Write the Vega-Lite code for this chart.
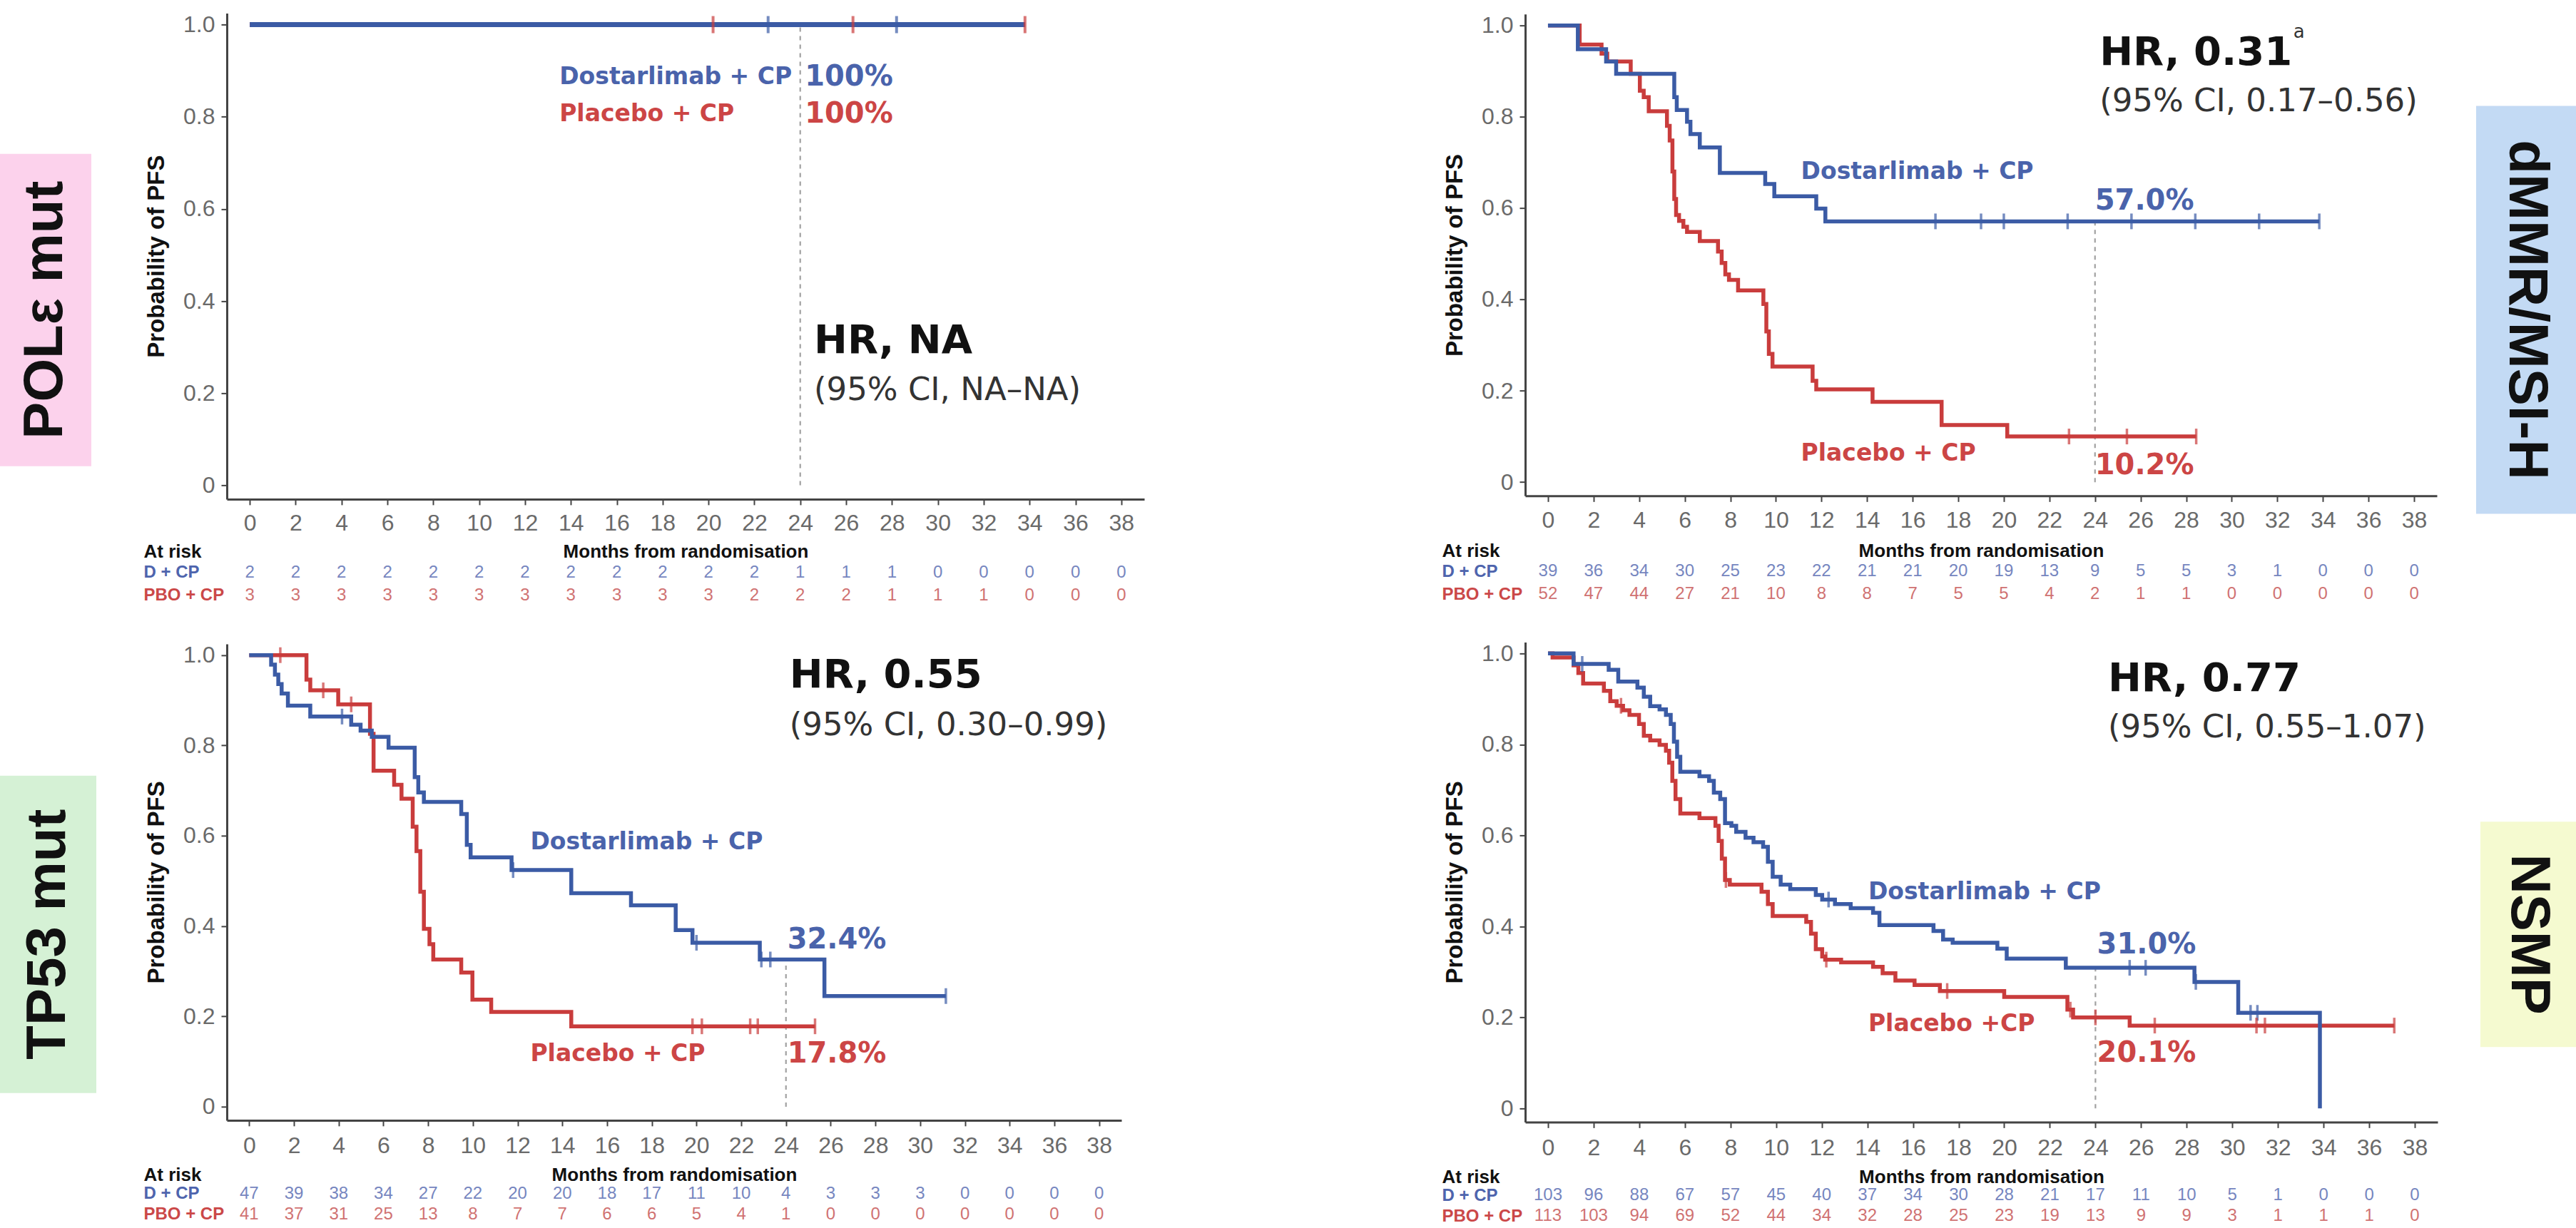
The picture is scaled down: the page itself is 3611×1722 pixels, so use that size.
{
"$schema": "https://vega.github.io/schema/vega-lite/v6.json",
"background": "white",
"padding": {"left": 0, "top": 18, "right": 0, "bottom": 0},
"config": {
  "view": {"stroke": null},
  "axis": {"grid": false, "domainColor": "#444", "domainWidth": 3, "tickColor": "#444", "tickWidth": 2, "tickSize": 8, "labelFont": "Liberation Sans", "labelFontSize": 32, "labelColor": "#6a6a6a", "titleFont": "Liberation Sans"}
},
"datasets": {
"landmark": [
{"panel":"TL","t":24,"s":0,"top":1},
{"panel":"TR","t":24,"s":0,"top":0.571},
{"panel":"BL","t":24,"s":0,"top":0.326},
{"panel":"BR","t":24,"s":0,"top":0.309}
],
"km": [
{"panel":"TL","arm":"D","t":0,"s":1},{"panel":"TL","arm":"D","t":33.8,"s":1},
{"panel":"TL","arm":"P","t":0,"s":1},{"panel":"TL","arm":"P","t":33.8,"s":1},
{"panel":"TR","arm":"D","t":0,"s":1},{"panel":"TR","arm":"D","t":1.31,"s":0.948},{"panel":"TR","arm":"D","t":2.55,"s":0.921},{"panel":"TR","arm":"D","t":2.99,"s":0.894},{"panel":"TR","arm":"D","t":5.54,"s":0.843},{"panel":"TR","arm":"D","t":5.65,"s":0.815},{"panel":"TR","arm":"D","t":6.1,"s":0.789},{"panel":"TR","arm":"D","t":6.25,"s":0.762},{"panel":"TR","arm":"D","t":6.66,"s":0.733},{"panel":"TR","arm":"D","t":7.54,"s":0.677},{"panel":"TR","arm":"D","t":9.53,"s":0.653},{"panel":"TR","arm":"D","t":9.93,"s":0.626},{"panel":"TR","arm":"D","t":11.77,"s":0.599},{"panel":"TR","arm":"D","t":12.17,"s":0.571},{"panel":"TR","arm":"D","t":33.84,"s":0.571},
{"panel":"TR","arm":"P","t":0,"s":1},{"panel":"TR","arm":"P","t":1.39,"s":0.958},{"panel":"TR","arm":"P","t":2.35,"s":0.938},{"panel":"TR","arm":"P","t":2.6,"s":0.921},{"panel":"TR","arm":"P","t":3.63,"s":0.894},{"panel":"TR","arm":"P","t":4.03,"s":0.857},{"panel":"TR","arm":"P","t":4.2,"s":0.843},{"panel":"TR","arm":"P","t":4.42,"s":0.812},{"panel":"TR","arm":"P","t":5.22,"s":0.78},{"panel":"TR","arm":"P","t":5.34,"s":0.748},{"panel":"TR","arm":"P","t":5.46,"s":0.68},{"panel":"TR","arm":"P","t":5.54,"s":0.62},{"panel":"TR","arm":"P","t":5.62,"s":0.585},{"panel":"TR","arm":"P","t":5.75,"s":0.572},{"panel":"TR","arm":"P","t":5.94,"s":0.559},{"panel":"TR","arm":"P","t":6.1,"s":0.548},{"panel":"TR","arm":"P","t":6.66,"s":0.528},{"panel":"TR","arm":"P","t":7.46,"s":0.505},{"panel":"TR","arm":"P","t":7.62,"s":0.48},{"panel":"TR","arm":"P","t":7.78,"s":0.455},{"panel":"TR","arm":"P","t":7.94,"s":0.443},{"panel":"TR","arm":"P","t":8.34,"s":0.42},{"panel":"TR","arm":"P","t":9.45,"s":0.39},{"panel":"TR","arm":"P","t":9.58,"s":0.33},{"panel":"TR","arm":"P","t":9.69,"s":0.281},{"panel":"TR","arm":"P","t":9.85,"s":0.253},{"panel":"TR","arm":"P","t":11.61,"s":0.222},{"panel":"TR","arm":"P","t":11.77,"s":0.203},{"panel":"TR","arm":"P","t":14.24,"s":0.176},{"panel":"TR","arm":"P","t":17.27,"s":0.125},{"panel":"TR","arm":"P","t":20.15,"s":0.1},{"panel":"TR","arm":"P","t":28.44,"s":0.1},
{"panel":"BL","arm":"D","t":0,"s":1},{"panel":"BL","arm":"D","t":0.98,"s":0.979},{"panel":"BL","arm":"D","t":1.15,"s":0.957},{"panel":"BL","arm":"D","t":1.3,"s":0.936},{"panel":"BL","arm":"D","t":1.45,"s":0.915},{"panel":"BL","arm":"D","t":1.73,"s":0.888},{"panel":"BL","arm":"D","t":2.73,"s":0.864},{"panel":"BL","arm":"D","t":4.56,"s":0.846},{"panel":"BL","arm":"D","t":4.98,"s":0.833},{"panel":"BL","arm":"D","t":5.48,"s":0.819},{"panel":"BL","arm":"D","t":6.23,"s":0.795},{"panel":"BL","arm":"D","t":7.4,"s":0.73},{"panel":"BL","arm":"D","t":7.56,"s":0.696},{"panel":"BL","arm":"D","t":7.81,"s":0.675},{"panel":"BL","arm":"D","t":9.48,"s":0.648},{"panel":"BL","arm":"D","t":9.73,"s":0.58},{"panel":"BL","arm":"D","t":9.9,"s":0.552},{"panel":"BL","arm":"D","t":11.73,"s":0.524},{"panel":"BL","arm":"D","t":14.4,"s":0.473},{"panel":"BL","arm":"D","t":17.07,"s":0.446},{"panel":"BL","arm":"D","t":19.07,"s":0.391},{"panel":"BL","arm":"D","t":19.82,"s":0.363},{"panel":"BL","arm":"D","t":22.83,"s":0.326},{"panel":"BL","arm":"D","t":25.72,"s":0.245},{"panel":"BL","arm":"D","t":31.15,"s":0.245},
{"panel":"BL","arm":"P","t":0,"s":1},{"panel":"BL","arm":"P","t":2.56,"s":0.946},{"panel":"BL","arm":"P","t":2.73,"s":0.922},{"panel":"BL","arm":"P","t":3.98,"s":0.891},{"panel":"BL","arm":"P","t":5.4,"s":0.826},{"panel":"BL","arm":"P","t":5.56,"s":0.744},{"panel":"BL","arm":"P","t":6.48,"s":0.713},{"panel":"BL","arm":"P","t":6.81,"s":0.682},{"panel":"BL","arm":"P","t":7.31,"s":0.62},{"panel":"BL","arm":"P","t":7.48,"s":0.566},{"panel":"BL","arm":"P","t":7.65,"s":0.476},{"panel":"BL","arm":"P","t":7.81,"s":0.394},{"panel":"BL","arm":"P","t":8.06,"s":0.36},{"panel":"BL","arm":"P","t":8.23,"s":0.326},{"panel":"BL","arm":"P","t":9.48,"s":0.297},{"panel":"BL","arm":"P","t":9.98,"s":0.237},{"panel":"BL","arm":"P","t":10.82,"s":0.21},{"panel":"BL","arm":"P","t":14.4,"s":0.178},{"panel":"BL","arm":"P","t":25.3,"s":0.178},
{"panel":"BR","arm":"D","t":0,"s":1},{"panel":"BR","arm":"D","t":1.12,"s":0.977},{"panel":"BR","arm":"D","t":2.66,"s":0.964},{"panel":"BR","arm":"D","t":3.08,"s":0.938},{"panel":"BR","arm":"D","t":3.92,"s":0.925},{"panel":"BR","arm":"D","t":4.2,"s":0.905},{"panel":"BR","arm":"D","t":4.48,"s":0.884},{"panel":"BR","arm":"D","t":4.89,"s":0.877},{"panel":"BR","arm":"D","t":5.17,"s":0.865},{"panel":"BR","arm":"D","t":5.38,"s":0.845},{"panel":"BR","arm":"D","t":5.52,"s":0.806},{"panel":"BR","arm":"D","t":5.66,"s":0.773},{"panel":"BR","arm":"D","t":5.8,"s":0.74},{"panel":"BR","arm":"D","t":6.64,"s":0.73},{"panel":"BR","arm":"D","t":7.06,"s":0.72},{"panel":"BR","arm":"D","t":7.27,"s":0.694},{"panel":"BR","arm":"D","t":7.55,"s":0.68},{"panel":"BR","arm":"D","t":7.76,"s":0.627},{"panel":"BR","arm":"D","t":8.04,"s":0.621},{"panel":"BR","arm":"D","t":8.25,"s":0.608},{"panel":"BR","arm":"D","t":8.66,"s":0.595},{"panel":"BR","arm":"D","t":9.01,"s":0.585},{"panel":"BR","arm":"D","t":9.43,"s":0.575},{"panel":"BR","arm":"D","t":9.64,"s":0.542},{"panel":"BR","arm":"D","t":9.85,"s":0.509},{"panel":"BR","arm":"D","t":10.2,"s":0.492},{"panel":"BR","arm":"D","t":10.62,"s":0.482},{"panel":"BR","arm":"D","t":11.74,"s":0.469},{"panel":"BR","arm":"D","t":12.02,"s":0.459},{"panel":"BR","arm":"D","t":12.58,"s":0.449},{"panel":"BR","arm":"D","t":13.27,"s":0.44},{"panel":"BR","arm":"D","t":14.25,"s":0.43},{"panel":"BR","arm":"D","t":14.53,"s":0.403},{"panel":"BR","arm":"D","t":16.9,"s":0.39},{"panel":"BR","arm":"D","t":17.32,"s":0.371},{"panel":"BR","arm":"D","t":17.74,"s":0.364},{"panel":"BR","arm":"D","t":19.7,"s":0.351},{"panel":"BR","arm":"D","t":20.11,"s":0.329},{"panel":"BR","arm":"D","t":22.7,"s":0.309},{"panel":"BR","arm":"D","t":28.34,"s":0.278},{"panel":"BR","arm":"D","t":30.26,"s":0.21},{"panel":"BR","arm":"D","t":33.84,"s":0},
{"panel":"BR","arm":"P","t":0,"s":1},{"panel":"BR","arm":"P","t":0.2,"s":0.991},{"panel":"BR","arm":"P","t":1.12,"s":0.974},{"panel":"BR","arm":"P","t":1.33,"s":0.957},{"panel":"BR","arm":"P","t":1.54,"s":0.934},{"panel":"BR","arm":"P","t":2.45,"s":0.918},{"panel":"BR","arm":"P","t":2.73,"s":0.895},{"panel":"BR","arm":"P","t":3.01,"s":0.885},{"panel":"BR","arm":"P","t":3.29,"s":0.875},{"panel":"BR","arm":"P","t":3.57,"s":0.865},{"panel":"BR","arm":"P","t":3.99,"s":0.845},{"panel":"BR","arm":"P","t":4.2,"s":0.819},{"panel":"BR","arm":"P","t":4.48,"s":0.809},{"panel":"BR","arm":"P","t":4.89,"s":0.799},{"panel":"BR","arm":"P","t":5.17,"s":0.786},{"panel":"BR","arm":"P","t":5.31,"s":0.76},{"panel":"BR","arm":"P","t":5.45,"s":0.72},{"panel":"BR","arm":"P","t":5.59,"s":0.68},{"panel":"BR","arm":"P","t":5.8,"s":0.648},{"panel":"BR","arm":"P","t":6.64,"s":0.638},{"panel":"BR","arm":"P","t":7.34,"s":0.621},{"panel":"BR","arm":"P","t":7.48,"s":0.588},{"panel":"BR","arm":"P","t":7.62,"s":0.549},{"panel":"BR","arm":"P","t":7.76,"s":0.502},{"panel":"BR","arm":"P","t":7.97,"s":0.492},{"panel":"BR","arm":"P","t":9.36,"s":0.476},{"panel":"BR","arm":"P","t":9.64,"s":0.449},{"panel":"BR","arm":"P","t":9.85,"s":0.423},{"panel":"BR","arm":"P","t":11.32,"s":0.41},{"panel":"BR","arm":"P","t":11.53,"s":0.384},{"panel":"BR","arm":"P","t":11.74,"s":0.35},{"panel":"BR","arm":"P","t":12.02,"s":0.334},{"panel":"BR","arm":"P","t":12.15,"s":0.327},{"panel":"BR","arm":"P","t":12.85,"s":0.321},{"panel":"BR","arm":"P","t":14.25,"s":0.311},{"panel":"BR","arm":"P","t":14.67,"s":0.297},{"panel":"BR","arm":"P","t":15.23,"s":0.281},{"panel":"BR","arm":"P","t":16.07,"s":0.271},{"panel":"BR","arm":"P","t":17.18,"s":0.258},{"panel":"BR","arm":"P","t":20.0,"s":0.245},{"panel":"BR","arm":"P","t":22.77,"s":0.217},{"panel":"BR","arm":"P","t":23.02,"s":0.2},{"panel":"BR","arm":"P","t":25.5,"s":0.182},{"panel":"BR","arm":"P","t":37.1,"s":0.182}
],
"cens": [
{"panel":"TL","arm":"D","t":22.6,"s":1},{"panel":"TL","arm":"D","t":28.2,"s":1},
{"panel":"TL","arm":"P","t":20.2,"s":1},{"panel":"TL","arm":"P","t":26.3,"s":1},{"panel":"TL","arm":"P","t":33.8,"s":1},
{"panel":"TR","arm":"D","t":17.0,"s":0.571},{"panel":"TR","arm":"D","t":19.0,"s":0.571},{"panel":"TR","arm":"D","t":20.0,"s":0.571},{"panel":"TR","arm":"D","t":22.8,"s":0.571},{"panel":"TR","arm":"D","t":25.6,"s":0.571},{"panel":"TR","arm":"D","t":28.4,"s":0.571},{"panel":"TR","arm":"D","t":31.2,"s":0.571},{"panel":"TR","arm":"D","t":33.84,"s":0.571},
{"panel":"TR","arm":"P","t":22.86,"s":0.1},{"panel":"TR","arm":"P","t":25.4,"s":0.1},{"panel":"TR","arm":"P","t":28.44,"s":0.1},
{"panel":"BL","arm":"D","t":4.15,"s":0.864},{"panel":"BL","arm":"D","t":11.8,"s":0.524},{"panel":"BL","arm":"D","t":20.0,"s":0.363},{"panel":"BL","arm":"D","t":22.9,"s":0.326},{"panel":"BL","arm":"D","t":23.3,"s":0.326},{"panel":"BL","arm":"D","t":31.15,"s":0.245},
{"panel":"BL","arm":"P","t":1.39,"s":1},{"panel":"BL","arm":"P","t":3.31,"s":0.922},{"panel":"BL","arm":"P","t":4.56,"s":0.891},{"panel":"BL","arm":"P","t":19.82,"s":0.178},{"panel":"BL","arm":"P","t":20.24,"s":0.178},{"panel":"BL","arm":"P","t":22.4,"s":0.178},{"panel":"BL","arm":"P","t":22.74,"s":0.178},{"panel":"BL","arm":"P","t":25.3,"s":0.178},
{"panel":"BR","arm":"D","t":1.5,"s":0.977},{"panel":"BR","arm":"D","t":12.3,"s":0.459},{"panel":"BR","arm":"D","t":25.5,"s":0.309},{"panel":"BR","arm":"D","t":26.2,"s":0.309},{"panel":"BR","arm":"D","t":28.4,"s":0.278},{"panel":"BR","arm":"D","t":30.8,"s":0.21},{"panel":"BR","arm":"D","t":31.1,"s":0.21},
{"panel":"BR","arm":"P","t":3.2,"s":0.885},{"panel":"BR","arm":"P","t":7.8,"s":0.502},{"panel":"BR","arm":"P","t":12.2,"s":0.327},{"panel":"BR","arm":"P","t":17.5,"s":0.258},{"panel":"BR","arm":"P","t":22.9,"s":0.217},{"panel":"BR","arm":"P","t":24.0,"s":0.2},{"panel":"BR","arm":"P","t":26.6,"s":0.182},{"panel":"BR","arm":"P","t":31.06,"s":0.182},{"panel":"BR","arm":"P","t":31.43,"s":0.182},{"panel":"BR","arm":"P","t":37.1,"s":0.182}
],
"notes": [
{"panel":"TL","kind":"arm","arm":"D","t":13.5,"s":0.887,"label":"Dostarlimab + CP"},
{"panel":"TL","kind":"arm","arm":"P","t":13.5,"s":0.805,"label":"Placebo + CP"},
{"panel":"TL","kind":"pct","arm":"D","t":24.2,"s":0.887,"label":"100%"},
{"panel":"TL","kind":"pct","arm":"P","t":24.2,"s":0.805,"label":"100%"},
{"panel":"TL","kind":"hr","arm":"","t":24.6,"s":0.314,"label":"HR, NA"},
{"panel":"TL","kind":"ci","arm":"","t":24.6,"s":0.206,"label":"(95% CI, NA–NA)"},
{"panel":"TR","kind":"arm","arm":"D","t":11.1,"s":0.68,"label":"Dostarlimab + CP"},
{"panel":"TR","kind":"arm","arm":"P","t":11.1,"s":0.062,"label":"Placebo + CP"},
{"panel":"TR","kind":"pct","arm":"D","t":24.0,"s":0.615,"label":"57.0%"},
{"panel":"TR","kind":"pct","arm":"P","t":24.0,"s":0.036,"label":"10.2%"},
{"panel":"TR","kind":"hr","arm":"","t":24.2,"s":0.94,"label":"HR, 0.31"},
{"panel":"TR","kind":"sup","arm":"","t":32.7,"s":0.985,"label":"a"},
{"panel":"TR","kind":"ci","arm":"","t":24.2,"s":0.834,"label":"(95% CI, 0.17–0.56)"},
{"panel":"BL","kind":"arm","arm":"D","t":12.57,"s":0.586,"label":"Dostarlimab + CP"},
{"panel":"BL","kind":"arm","arm":"P","t":12.57,"s":0.117,"label":"Placebo + CP"},
{"panel":"BL","kind":"pct","arm":"D","t":24.06,"s":0.37,"label":"32.4%"},
{"panel":"BL","kind":"pct","arm":"P","t":24.06,"s":0.117,"label":"17.8%"},
{"panel":"BL","kind":"hr","arm":"","t":24.16,"s":0.956,"label":"HR, 0.55"},
{"panel":"BL","kind":"ci","arm":"","t":24.16,"s":0.844,"label":"(95% CI, 0.30–0.99)"},
{"panel":"BR","kind":"arm","arm":"D","t":14.04,"s":0.476,"label":"Dostarlimab + CP"},
{"panel":"BR","kind":"arm","arm":"P","t":14.04,"s":0.186,"label":"Placebo +CP"},
{"panel":"BR","kind":"pct","arm":"D","t":24.07,"s":0.359,"label":"31.0%"},
{"panel":"BR","kind":"pct","arm":"P","t":24.07,"s":0.121,"label":"20.1%"},
{"panel":"BR","kind":"hr","arm":"","t":24.55,"s":0.944,"label":"HR, 0.77"},
{"panel":"BR","kind":"ci","arm":"","t":24.55,"s":0.837,"label":"(95% CI, 0.55–1.07)"}
],
"risk": [
{"panel":"TL","arm":"D + CP","t":0,"n":2},{"panel":"TL","arm":"D + CP","t":2,"n":2},{"panel":"TL","arm":"D + CP","t":4,"n":2},{"panel":"TL","arm":"D + CP","t":6,"n":2},{"panel":"TL","arm":"D + CP","t":8,"n":2},{"panel":"TL","arm":"D + CP","t":10,"n":2},{"panel":"TL","arm":"D + CP","t":12,"n":2},{"panel":"TL","arm":"D + CP","t":14,"n":2},{"panel":"TL","arm":"D + CP","t":16,"n":2},{"panel":"TL","arm":"D + CP","t":18,"n":2},{"panel":"TL","arm":"D + CP","t":20,"n":2},{"panel":"TL","arm":"D + CP","t":22,"n":2},{"panel":"TL","arm":"D + CP","t":24,"n":1},{"panel":"TL","arm":"D + CP","t":26,"n":1},{"panel":"TL","arm":"D + CP","t":28,"n":1},{"panel":"TL","arm":"D + CP","t":30,"n":0},{"panel":"TL","arm":"D + CP","t":32,"n":0},{"panel":"TL","arm":"D + CP","t":34,"n":0},{"panel":"TL","arm":"D + CP","t":36,"n":0},{"panel":"TL","arm":"D + CP","t":38,"n":0},
{"panel":"TL","arm":"PBO + CP","t":0,"n":3},{"panel":"TL","arm":"PBO + CP","t":2,"n":3},{"panel":"TL","arm":"PBO + CP","t":4,"n":3},{"panel":"TL","arm":"PBO + CP","t":6,"n":3},{"panel":"TL","arm":"PBO + CP","t":8,"n":3},{"panel":"TL","arm":"PBO + CP","t":10,"n":3},{"panel":"TL","arm":"PBO + CP","t":12,"n":3},{"panel":"TL","arm":"PBO + CP","t":14,"n":3},{"panel":"TL","arm":"PBO + CP","t":16,"n":3},{"panel":"TL","arm":"PBO + CP","t":18,"n":3},{"panel":"TL","arm":"PBO + CP","t":20,"n":3},{"panel":"TL","arm":"PBO + CP","t":22,"n":2},{"panel":"TL","arm":"PBO + CP","t":24,"n":2},{"panel":"TL","arm":"PBO + CP","t":26,"n":2},{"panel":"TL","arm":"PBO + CP","t":28,"n":1},{"panel":"TL","arm":"PBO + CP","t":30,"n":1},{"panel":"TL","arm":"PBO + CP","t":32,"n":1},{"panel":"TL","arm":"PBO + CP","t":34,"n":0},{"panel":"TL","arm":"PBO + CP","t":36,"n":0},{"panel":"TL","arm":"PBO + CP","t":38,"n":0},
{"panel":"TR","arm":"D + CP","t":0,"n":39},{"panel":"TR","arm":"D + CP","t":2,"n":36},{"panel":"TR","arm":"D + CP","t":4,"n":34},{"panel":"TR","arm":"D + CP","t":6,"n":30},{"panel":"TR","arm":"D + CP","t":8,"n":25},{"panel":"TR","arm":"D + CP","t":10,"n":23},{"panel":"TR","arm":"D + CP","t":12,"n":22},{"panel":"TR","arm":"D + CP","t":14,"n":21},{"panel":"TR","arm":"D + CP","t":16,"n":21},{"panel":"TR","arm":"D + CP","t":18,"n":20},{"panel":"TR","arm":"D + CP","t":20,"n":19},{"panel":"TR","arm":"D + CP","t":22,"n":13},{"panel":"TR","arm":"D + CP","t":24,"n":9},{"panel":"TR","arm":"D + CP","t":26,"n":5},{"panel":"TR","arm":"D + CP","t":28,"n":5},{"panel":"TR","arm":"D + CP","t":30,"n":3},{"panel":"TR","arm":"D + CP","t":32,"n":1},{"panel":"TR","arm":"D + CP","t":34,"n":0},{"panel":"TR","arm":"D + CP","t":36,"n":0},{"panel":"TR","arm":"D + CP","t":38,"n":0},
{"panel":"TR","arm":"PBO + CP","t":0,"n":52},{"panel":"TR","arm":"PBO + CP","t":2,"n":47},{"panel":"TR","arm":"PBO + CP","t":4,"n":44},{"panel":"TR","arm":"PBO + CP","t":6,"n":27},{"panel":"TR","arm":"PBO + CP","t":8,"n":21},{"panel":"TR","arm":"PBO + CP","t":10,"n":10},{"panel":"TR","arm":"PBO + CP","t":12,"n":8},{"panel":"TR","arm":"PBO + CP","t":14,"n":8},{"panel":"TR","arm":"PBO + CP","t":16,"n":7},{"panel":"TR","arm":"PBO + CP","t":18,"n":5},{"panel":"TR","arm":"PBO + CP","t":20,"n":5},{"panel":"TR","arm":"PBO + CP","t":22,"n":4},{"panel":"TR","arm":"PBO + CP","t":24,"n":2},{"panel":"TR","arm":"PBO + CP","t":26,"n":1},{"panel":"TR","arm":"PBO + CP","t":28,"n":1},{"panel":"TR","arm":"PBO + CP","t":30,"n":0},{"panel":"TR","arm":"PBO + CP","t":32,"n":0},{"panel":"TR","arm":"PBO + CP","t":34,"n":0},{"panel":"TR","arm":"PBO + CP","t":36,"n":0},{"panel":"TR","arm":"PBO + CP","t":38,"n":0},
{"panel":"BL","arm":"D + CP","t":0,"n":47},{"panel":"BL","arm":"D + CP","t":2,"n":39},{"panel":"BL","arm":"D + CP","t":4,"n":38},{"panel":"BL","arm":"D + CP","t":6,"n":34},{"panel":"BL","arm":"D + CP","t":8,"n":27},{"panel":"BL","arm":"D + CP","t":10,"n":22},{"panel":"BL","arm":"D + CP","t":12,"n":20},{"panel":"BL","arm":"D + CP","t":14,"n":20},{"panel":"BL","arm":"D + CP","t":16,"n":18},{"panel":"BL","arm":"D + CP","t":18,"n":17},{"panel":"BL","arm":"D + CP","t":20,"n":11},{"panel":"BL","arm":"D + CP","t":22,"n":10},{"panel":"BL","arm":"D + CP","t":24,"n":4},{"panel":"BL","arm":"D + CP","t":26,"n":3},{"panel":"BL","arm":"D + CP","t":28,"n":3},{"panel":"BL","arm":"D + CP","t":30,"n":3},{"panel":"BL","arm":"D + CP","t":32,"n":0},{"panel":"BL","arm":"D + CP","t":34,"n":0},{"panel":"BL","arm":"D + CP","t":36,"n":0},{"panel":"BL","arm":"D + CP","t":38,"n":0},
{"panel":"BL","arm":"PBO + CP","t":0,"n":41},{"panel":"BL","arm":"PBO + CP","t":2,"n":37},{"panel":"BL","arm":"PBO + CP","t":4,"n":31},{"panel":"BL","arm":"PBO + CP","t":6,"n":25},{"panel":"BL","arm":"PBO + CP","t":8,"n":13},{"panel":"BL","arm":"PBO + CP","t":10,"n":8},{"panel":"BL","arm":"PBO + CP","t":12,"n":7},{"panel":"BL","arm":"PBO + CP","t":14,"n":7},{"panel":"BL","arm":"PBO + CP","t":16,"n":6},{"panel":"BL","arm":"PBO + CP","t":18,"n":6},{"panel":"BL","arm":"PBO + CP","t":20,"n":5},{"panel":"BL","arm":"PBO + CP","t":22,"n":4},{"panel":"BL","arm":"PBO + CP","t":24,"n":1},{"panel":"BL","arm":"PBO + CP","t":26,"n":0},{"panel":"BL","arm":"PBO + CP","t":28,"n":0},{"panel":"BL","arm":"PBO + CP","t":30,"n":0},{"panel":"BL","arm":"PBO + CP","t":32,"n":0},{"panel":"BL","arm":"PBO + CP","t":34,"n":0},{"panel":"BL","arm":"PBO + CP","t":36,"n":0},{"panel":"BL","arm":"PBO + CP","t":38,"n":0},
{"panel":"BR","arm":"D + CP","t":0,"n":103},{"panel":"BR","arm":"D + CP","t":2,"n":96},{"panel":"BR","arm":"D + CP","t":4,"n":88},{"panel":"BR","arm":"D + CP","t":6,"n":67},{"panel":"BR","arm":"D + CP","t":8,"n":57},{"panel":"BR","arm":"D + CP","t":10,"n":45},{"panel":"BR","arm":"D + CP","t":12,"n":40},{"panel":"BR","arm":"D + CP","t":14,"n":37},{"panel":"BR","arm":"D + CP","t":16,"n":34},{"panel":"BR","arm":"D + CP","t":18,"n":30},{"panel":"BR","arm":"D + CP","t":20,"n":28},{"panel":"BR","arm":"D + CP","t":22,"n":21},{"panel":"BR","arm":"D + CP","t":24,"n":17},{"panel":"BR","arm":"D + CP","t":26,"n":11},{"panel":"BR","arm":"D + CP","t":28,"n":10},{"panel":"BR","arm":"D + CP","t":30,"n":5},{"panel":"BR","arm":"D + CP","t":32,"n":1},{"panel":"BR","arm":"D + CP","t":34,"n":0},{"panel":"BR","arm":"D + CP","t":36,"n":0},{"panel":"BR","arm":"D + CP","t":38,"n":0},
{"panel":"BR","arm":"PBO + CP","t":0,"n":113},{"panel":"BR","arm":"PBO + CP","t":2,"n":103},{"panel":"BR","arm":"PBO + CP","t":4,"n":94},{"panel":"BR","arm":"PBO + CP","t":6,"n":69},{"panel":"BR","arm":"PBO + CP","t":8,"n":52},{"panel":"BR","arm":"PBO + CP","t":10,"n":44},{"panel":"BR","arm":"PBO + CP","t":12,"n":34},{"panel":"BR","arm":"PBO + CP","t":14,"n":32},{"panel":"BR","arm":"PBO + CP","t":16,"n":28},{"panel":"BR","arm":"PBO + CP","t":18,"n":25},{"panel":"BR","arm":"PBO + CP","t":20,"n":23},{"panel":"BR","arm":"PBO + CP","t":22,"n":19},{"panel":"BR","arm":"PBO + CP","t":24,"n":13},{"panel":"BR","arm":"PBO + CP","t":26,"n":9},{"panel":"BR","arm":"PBO + CP","t":28,"n":9},{"panel":"BR","arm":"PBO + CP","t":30,"n":3},{"panel":"BR","arm":"PBO + CP","t":32,"n":1},{"panel":"BR","arm":"PBO + CP","t":34,"n":1},{"panel":"BR","arm":"PBO + CP","t":36,"n":1},{"panel":"BR","arm":"PBO + CP","t":38,"n":0}
]
},
"spacing": 49,
"vconcat": [
{"spacing": 417, "center": true, "hconcat": [
 {"spacing": 73, "center": true, "hconcat": [
  {"width": 128, "height": 438, "view": {"fill": "#fcd2ec", "stroke": null},
   "data": {"values": [{"label": "POLε mut"}]},
   "mark": {"type": "text", "angle": 270, "font": "Liberation Sans", "fontWeight": "bold", "fontSize": 78, "color": "#111", "align": "center", "baseline": "middle"},
   "encoding": {"text": {"field": "label"}}},
  {"spacing": 86.5, "bounds": "flush", "vconcat": [
   {"width": 1286, "height": 681.5,
    "encoding": {
     "x": {"field": "t", "type": "quantitative", "scale": {"domain": [-1, 39], "nice": false, "zero": false}, "axis": {"values": [0,2,4,6,8,10,12,14,16,18,20,22,24,26,28,30,32,34,36,38], "title": null, "labelPadding": 11, "labelFlush": false, "labelOverlap": false}},
     "y": {"field": "s", "type": "quantitative", "scale": {"domain": [-0.03, 1.025], "nice": false, "zero": false}, "axis": {"values": [0,0.2,0.4,0.6,0.8,1], "labelExpr": "datum.value === 0 ? '0' : format(datum.value, '.1f')", "title": "Probability of PFS", "titleFontSize": 33, "titleFontWeight": "bold", "titleColor": "#111", "titlePadding": 20, "labelPadding": 9}}
    },
    "layer": [
     {"data": {"name": "landmark"}, "transform": [{"filter": "datum.panel === 'TL'"}], "mark": {"type": "rule", "color": "#a2a2a2", "strokeWidth": 2.2, "strokeDash": [6, 6]}, "encoding": {"y2": {"field": "top"}}},
     {"data": {"name": "km"}, "transform": [{"filter": "datum.panel === 'TL' && datum.arm === 'P'"}], "mark": {"type": "line", "interpolate": "step-after", "color": "#c93c3c", "strokeWidth": 7}, "encoding": {}},
     {"data": {"name": "km"}, "transform": [{"filter": "datum.panel === 'TL' && datum.arm === 'D'"}], "mark": {"type": "line", "interpolate": "step-after", "color": "#3b5ba5", "strokeWidth": 7}, "encoding": {}},
     {"data": {"name": "cens"}, "transform": [{"filter": "datum.panel === 'TL'"}], "mark": {"type": "tick", "orient": "vertical", "size": 24, "thickness": 4}, "encoding": {"color": {"condition": {"test": "datum.arm === 'D'", "value": "#3b5ba5"}, "value": "#c93c3c"}}},
     {"data": {"name": "notes"}, "transform": [{"filter": "datum.panel === 'TL' && (datum.kind === 'arm' || datum.kind === 'pct' || datum.kind === 'hr')"}], "mark": {"type": "text", "align": "left", "baseline": "middle", "font": "DejaVu Sans", "fontWeight": "bold"}, "encoding": {"text": {"field": "label"}, "size": {"condition": [{"test": "datum.kind === 'arm'", "value": 33}, {"test": "datum.kind === 'hr'", "value": 56}], "value": 40}, "color": {"condition": [{"test": "datum.kind === 'hr'", "value": "#111"}, {"test": "datum.arm === 'D'", "value": "#4a63ab"}], "value": "#cc4545"}}},
     {"data": {"name": "notes"}, "transform": [{"filter": "datum.panel === 'TL' && (datum.kind === 'ci' || datum.kind === 'sup')"}], "mark": {"type": "text", "align": "left", "baseline": "middle", "font": "DejaVu Sans", "color": "#333"}, "encoding": {"text": {"field": "label"}, "size": {"condition": {"test": "datum.kind === 'sup'", "value": 26}, "value": 45}}}
    ]},
   {"width": 1286, "height": 64,
    "data": {"name": "risk"}, "transform": [{"filter": "datum.panel === 'TL'"}],
    "mark": {"type": "text", "font": "Liberation Sans", "fontSize": 24},
    "encoding": {
     "x": {"field": "t", "type": "quantitative", "scale": {"domain": [-1, 39], "nice": false, "zero": false}, "axis": {"orient": "top", "title": "Months from randomisation", "labels": false, "ticks": false, "domain": false, "titleFontSize": 26, "titleFontWeight": "bold", "titleColor": "#111", "titleY": -13, "titleBaseline": "middle"}},
     "y": {"field": "arm", "type": "nominal", "sort": ["D + CP", "PBO + CP"], "scale": {"type": "point", "padding": 0.5}, "axis": {"title": "At risk", "titleAngle": 0, "titleAlign": "left", "titleBaseline": "middle", "titleX": -117, "titleY": -13, "titleFontSize": 26, "titleFontWeight": "bold", "titleColor": "#111", "labelAlign": "left", "labelPadding": 117, "ticks": false, "tickSize": 0, "domain": false, "labelFontSize": 24, "labelFontWeight": "bold", "labelColor": {"condition": {"test": "datum.value === 'D + CP'", "value": "#4e64ad"}, "value": "#cb4848"}}},
     "text": {"field": "n", "type": "quantitative"},
     "color": {"condition": {"test": "datum.arm === 'D + CP'", "value": "#7686bf"}, "value": "#d07272"}
    }}
  ]}
 ]},
 {"spacing": 55, "center": true, "hconcat": [
  {"spacing": 89.8, "bounds": "flush", "vconcat": [
   {"width": 1278, "height": 675.7,
    "encoding": {
     "x": {"field": "t", "type": "quantitative", "scale": {"domain": [-1, 39], "nice": false, "zero": false}, "axis": {"values": [0,2,4,6,8,10,12,14,16,18,20,22,24,26,28,30,32,34,36,38], "title": null, "labelPadding": 11, "labelFlush": false, "labelOverlap": false}},
     "y": {"field": "s", "type": "quantitative", "scale": {"domain": [-0.03, 1.025], "nice": false, "zero": false}, "axis": {"values": [0,0.2,0.4,0.6,0.8,1], "labelExpr": "datum.value === 0 ? '0' : format(datum.value, '.1f')", "title": "Probability of PFS", "titleFontSize": 33, "titleFontWeight": "bold", "titleColor": "#111", "titlePadding": 20, "labelPadding": 9}}
    },
    "layer": [
     {"data": {"name": "landmark"}, "transform": [{"filter": "datum.panel === 'TR'"}], "mark": {"type": "rule", "color": "#a2a2a2", "strokeWidth": 2.2, "strokeDash": [6, 6]}, "encoding": {"y2": {"field": "top"}}},
     {"data": {"name": "km"}, "transform": [{"filter": "datum.panel === 'TR' && datum.arm === 'P'"}], "mark": {"type": "line", "interpolate": "step-after", "color": "#c93c3c", "strokeWidth": 5.5}, "encoding": {}},
     {"data": {"name": "km"}, "transform": [{"filter": "datum.panel === 'TR' && datum.arm === 'D'"}], "mark": {"type": "line", "interpolate": "step-after", "color": "#3b5ba5", "strokeWidth": 5.5}, "encoding": {}},
     {"data": {"name": "cens"}, "transform": [{"filter": "datum.panel === 'TR'"}], "mark": {"type": "tick", "orient": "vertical", "size": 22, "thickness": 3.5}, "encoding": {"color": {"condition": {"test": "datum.arm === 'D'", "value": "#3b5ba5"}, "value": "#c93c3c"}}},
     {"data": {"name": "notes"}, "transform": [{"filter": "datum.panel === 'TR' && (datum.kind === 'arm' || datum.kind === 'pct' || datum.kind === 'hr')"}], "mark": {"type": "text", "align": "left", "baseline": "middle", "font": "DejaVu Sans", "fontWeight": "bold"}, "encoding": {"text": {"field": "label"}, "size": {"condition": [{"test": "datum.kind === 'arm'", "value": 33}, {"test": "datum.kind === 'hr'", "value": 56}], "value": 40}, "color": {"condition": [{"test": "datum.kind === 'hr'", "value": "#111"}, {"test": "datum.arm === 'D'", "value": "#4a63ab"}], "value": "#cc4545"}}},
     {"data": {"name": "notes"}, "transform": [{"filter": "datum.panel === 'TR' && (datum.kind === 'ci' || datum.kind === 'sup')"}], "mark": {"type": "text", "align": "left", "baseline": "middle", "font": "DejaVu Sans", "color": "#333"}, "encoding": {"text": {"field": "label"}, "size": {"condition": {"test": "datum.kind === 'sup'", "value": 26}, "value": 45}}}
    ]},
   {"width": 1278, "height": 64,
    "data": {"name": "risk"}, "transform": [{"filter": "datum.panel === 'TR'"}],
    "mark": {"type": "text", "font": "Liberation Sans", "fontSize": 24},
    "encoding": {
     "x": {"field": "t", "type": "quantitative", "scale": {"domain": [-1, 39], "nice": false, "zero": false}, "axis": {"orient": "top", "title": "Months from randomisation", "labels": false, "ticks": false, "domain": false, "titleFontSize": 26, "titleFontWeight": "bold", "titleColor": "#111", "titleY": -13, "titleBaseline": "middle"}},
     "y": {"field": "arm", "type": "nominal", "sort": ["D + CP", "PBO + CP"], "scale": {"type": "point", "padding": 0.5}, "axis": {"title": "At risk", "titleAngle": 0, "titleAlign": "left", "titleBaseline": "middle", "titleX": -117, "titleY": -13, "titleFontSize": 26, "titleFontWeight": "bold", "titleColor": "#111", "labelAlign": "left", "labelPadding": 117, "ticks": false, "tickSize": 0, "domain": false, "labelFontSize": 24, "labelFontWeight": "bold", "labelColor": {"condition": {"test": "datum.value === 'D + CP'", "value": "#4e64ad"}, "value": "#cb4848"}}},
     "text": {"field": "n", "type": "quantitative"},
     "color": {"condition": {"test": "datum.arm === 'D + CP'", "value": "#7686bf"}, "value": "#d07272"}
    }}
  ]},
  {"width": 140, "height": 572, "view": {"fill": "#c3daf4", "stroke": null},
   "data": {"values": [{"label": "dMMR/MSI-H"}]},
   "mark": {"type": "text", "angle": 90, "font": "Liberation Sans", "fontWeight": "bold", "fontSize": 78, "color": "#111", "align": "center", "baseline": "middle"},
   "encoding": {"text": {"field": "label"}}}
 ]}
]},
{"spacing": 449, "center": true, "hconcat": [
 {"spacing": 66, "center": true, "hconcat": [
  {"width": 135, "height": 445, "view": {"fill": "#d5f1d5", "stroke": null},
   "data": {"values": [{"label": "TP53 mut"}]},
   "mark": {"type": "text", "angle": 270, "font": "Liberation Sans", "fontWeight": "bold", "fontSize": 78, "color": "#111", "align": "center", "baseline": "middle"},
   "encoding": {"text": {"field": "label"}}},
  {"spacing": 88.5, "bounds": "flush", "vconcat": [
   {"width": 1254, "height": 668,
    "encoding": {
     "x": {"field": "t", "type": "quantitative", "scale": {"domain": [-1, 39], "nice": false, "zero": false}, "axis": {"values": [0,2,4,6,8,10,12,14,16,18,20,22,24,26,28,30,32,34,36,38], "title": null, "labelPadding": 13, "labelFlush": false, "labelOverlap": false}},
     "y": {"field": "s", "type": "quantitative", "scale": {"domain": [-0.03, 1.025], "nice": false, "zero": false}, "axis": {"values": [0,0.2,0.4,0.6,0.8,1], "labelExpr": "datum.value === 0 ? '0' : format(datum.value, '.1f')", "title": "Probability of PFS", "titleFontSize": 33, "titleFontWeight": "bold", "titleColor": "#111", "titlePadding": 20, "labelPadding": 9}}
    },
    "layer": [
     {"data": {"name": "landmark"}, "transform": [{"filter": "datum.panel === 'BL'"}], "mark": {"type": "rule", "color": "#a2a2a2", "strokeWidth": 2.2, "strokeDash": [6, 6]}, "encoding": {"y2": {"field": "top"}}},
     {"data": {"name": "km"}, "transform": [{"filter": "datum.panel === 'BL' && datum.arm === 'P'"}], "mark": {"type": "line", "interpolate": "step-after", "color": "#c93c3c", "strokeWidth": 5.5}, "encoding": {}},
     {"data": {"name": "km"}, "transform": [{"filter": "datum.panel === 'BL' && datum.arm === 'D'"}], "mark": {"type": "line", "interpolate": "step-after", "color": "#3b5ba5", "strokeWidth": 5.5}, "encoding": {}},
     {"data": {"name": "cens"}, "transform": [{"filter": "datum.panel === 'BL'"}], "mark": {"type": "tick", "orient": "vertical", "size": 22, "thickness": 3.5}, "encoding": {"color": {"condition": {"test": "datum.arm === 'D'", "value": "#3b5ba5"}, "value": "#c93c3c"}}},
     {"data": {"name": "notes"}, "transform": [{"filter": "datum.panel === 'BL' && (datum.kind === 'arm' || datum.kind === 'pct' || datum.kind === 'hr')"}], "mark": {"type": "text", "align": "left", "baseline": "middle", "font": "DejaVu Sans", "fontWeight": "bold"}, "encoding": {"text": {"field": "label"}, "size": {"condition": [{"test": "datum.kind === 'arm'", "value": 33}, {"test": "datum.kind === 'hr'", "value": 56}], "value": 40}, "color": {"condition": [{"test": "datum.kind === 'hr'", "value": "#111"}, {"test": "datum.arm === 'D'", "value": "#4a63ab"}], "value": "#cc4545"}}},
     {"data": {"name": "notes"}, "transform": [{"filter": "datum.panel === 'BL' && (datum.kind === 'ci' || datum.kind === 'sup')"}], "mark": {"type": "text", "align": "left", "baseline": "middle", "font": "DejaVu Sans", "color": "#333"}, "encoding": {"text": {"field": "label"}, "size": {"condition": {"test": "datum.kind === 'sup'", "value": 26}, "value": 45}}}
    ]},
   {"width": 1254, "height": 58,
    "data": {"name": "risk"}, "transform": [{"filter": "datum.panel === 'BL'"}],
    "mark": {"type": "text", "font": "Liberation Sans", "fontSize": 24},
    "encoding": {
     "x": {"field": "t", "type": "quantitative", "scale": {"domain": [-1, 39], "nice": false, "zero": false}, "axis": {"orient": "top", "title": "Months from randomisation", "labels": false, "ticks": false, "domain": false, "titleFontSize": 26, "titleFontWeight": "bold", "titleColor": "#111", "titleY": -11.5, "titleBaseline": "middle"}},
     "y": {"field": "arm", "type": "nominal", "sort": ["D + CP", "PBO + CP"], "scale": {"type": "point", "padding": 0.5}, "axis": {"title": "At risk", "titleAngle": 0, "titleAlign": "left", "titleBaseline": "middle", "titleX": -117, "titleY": -11.5, "titleFontSize": 26, "titleFontWeight": "bold", "titleColor": "#111", "labelAlign": "left", "labelPadding": 117, "ticks": false, "tickSize": 0, "domain": false, "labelFontSize": 24, "labelFontWeight": "bold", "labelColor": {"condition": {"test": "datum.value === 'D + CP'", "value": "#4e64ad"}, "value": "#cb4848"}}},
     "text": {"field": "n", "type": "quantitative"},
     "color": {"condition": {"test": "datum.arm === 'D + CP'", "value": "#7686bf"}, "value": "#d07272"}
    }}
  ]}
 ]},
 {"spacing": 60, "center": true, "hconcat": [
  {"spacing": 88.5, "bounds": "flush", "vconcat": [
   {"width": 1279, "height": 673,
    "encoding": {
     "x": {"field": "t", "type": "quantitative", "scale": {"domain": [-1, 39], "nice": false, "zero": false}, "axis": {"values": [0,2,4,6,8,10,12,14,16,18,20,22,24,26,28,30,32,34,36,38], "title": null, "labelPadding": 13, "labelFlush": false, "labelOverlap": false}},
     "y": {"field": "s", "type": "quantitative", "scale": {"domain": [-0.03, 1.025], "nice": false, "zero": false}, "axis": {"values": [0,0.2,0.4,0.6,0.8,1], "labelExpr": "datum.value === 0 ? '0' : format(datum.value, '.1f')", "title": "Probability of PFS", "titleFontSize": 33, "titleFontWeight": "bold", "titleColor": "#111", "titlePadding": 20, "labelPadding": 9}}
    },
    "layer": [
     {"data": {"name": "landmark"}, "transform": [{"filter": "datum.panel === 'BR'"}], "mark": {"type": "rule", "color": "#a2a2a2", "strokeWidth": 2.2, "strokeDash": [6, 6]}, "encoding": {"y2": {"field": "top"}}},
     {"data": {"name": "km"}, "transform": [{"filter": "datum.panel === 'BR' && datum.arm === 'P'"}], "mark": {"type": "line", "interpolate": "step-after", "color": "#c93c3c", "strokeWidth": 5.5}, "encoding": {}},
     {"data": {"name": "km"}, "transform": [{"filter": "datum.panel === 'BR' && datum.arm === 'D'"}], "mark": {"type": "line", "interpolate": "step-after", "color": "#3b5ba5", "strokeWidth": 5.5}, "encoding": {}},
     {"data": {"name": "cens"}, "transform": [{"filter": "datum.panel === 'BR'"}], "mark": {"type": "tick", "orient": "vertical", "size": 22, "thickness": 3.5}, "encoding": {"color": {"condition": {"test": "datum.arm === 'D'", "value": "#3b5ba5"}, "value": "#c93c3c"}}},
     {"data": {"name": "notes"}, "transform": [{"filter": "datum.panel === 'BR' && (datum.kind === 'arm' || datum.kind === 'pct' || datum.kind === 'hr')"}], "mark": {"type": "text", "align": "left", "baseline": "middle", "font": "DejaVu Sans", "fontWeight": "bold"}, "encoding": {"text": {"field": "label"}, "size": {"condition": [{"test": "datum.kind === 'arm'", "value": 33}, {"test": "datum.kind === 'hr'", "value": 56}], "value": 40}, "color": {"condition": [{"test": "datum.kind === 'hr'", "value": "#111"}, {"test": "datum.arm === 'D'", "value": "#4a63ab"}], "value": "#cc4545"}}},
     {"data": {"name": "notes"}, "transform": [{"filter": "datum.panel === 'BR' && (datum.kind === 'ci' || datum.kind === 'sup')"}], "mark": {"type": "text", "align": "left", "baseline": "middle", "font": "DejaVu Sans", "color": "#333"}, "encoding": {"text": {"field": "label"}, "size": {"condition": {"test": "datum.kind === 'sup'", "value": 26}, "value": 45}}}
    ]},
   {"width": 1279, "height": 58,
    "data": {"name": "risk"}, "transform": [{"filter": "datum.panel === 'BR'"}],
    "mark": {"type": "text", "font": "Liberation Sans", "fontSize": 24},
    "encoding": {
     "x": {"field": "t", "type": "quantitative", "scale": {"domain": [-1, 39], "nice": false, "zero": false}, "axis": {"orient": "top", "title": "Months from randomisation", "labels": false, "ticks": false, "domain": false, "titleFontSize": 26, "titleFontWeight": "bold", "titleColor": "#111", "titleY": -11.5, "titleBaseline": "middle"}},
     "y": {"field": "arm", "type": "nominal", "sort": ["D + CP", "PBO + CP"], "scale": {"type": "point", "padding": 0.5}, "axis": {"title": "At risk", "titleAngle": 0, "titleAlign": "left", "titleBaseline": "middle", "titleX": -117, "titleY": -11.5, "titleFontSize": 26, "titleFontWeight": "bold", "titleColor": "#111", "labelAlign": "left", "labelPadding": 117, "ticks": false, "tickSize": 0, "domain": false, "labelFontSize": 24, "labelFontWeight": "bold", "labelColor": {"condition": {"test": "datum.value === 'D + CP'", "value": "#4e64ad"}, "value": "#cb4848"}}},
     "text": {"field": "n", "type": "quantitative"},
     "color": {"condition": {"test": "datum.arm === 'D + CP'", "value": "#7686bf"}, "value": "#d07272"}
    }}
  ]},
  {"width": 134, "height": 316, "view": {"fill": "#f5fad0", "stroke": null},
   "data": {"values": [{"label": "NSMP"}]},
   "mark": {"type": "text", "angle": 90, "font": "Liberation Sans", "fontWeight": "bold", "fontSize": 78, "color": "#111", "align": "center", "baseline": "middle"},
   "encoding": {"text": {"field": "label"}}}
 ]}
]}
]
}
